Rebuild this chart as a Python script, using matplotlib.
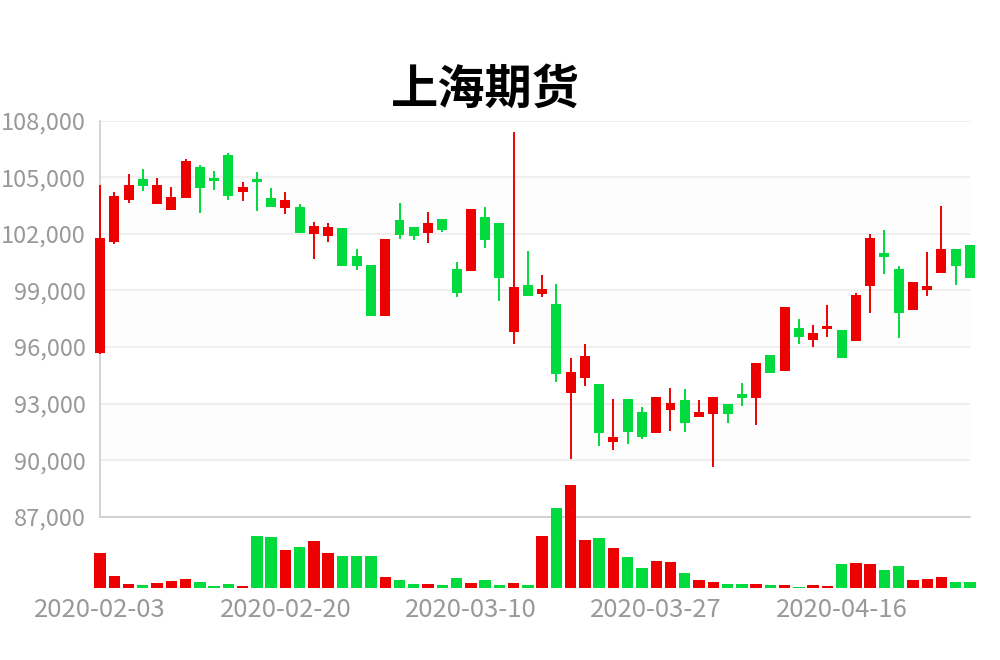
import numpy as np
import matplotlib
matplotlib.use("Agg")
from matplotlib import pyplot as plt
from matplotlib.ticker import FuncFormatter

plt.rcParams['font.family'] = ['Noto Sans CJK SC', 'DejaVu Sans']

title = "上海期货"

# trading days from 2020-02-03 (Qingming holiday skipped)
dates = np.busday_offset('2020-02-03', np.arange(62), roll='forward',
                         holidays=['2020-04-06'])

opens = [95680, 101560, 103790, 104900, 103590, 103290, 103880, 105540, 104960, 106200,
         104200, 104900, 103880, 103380, 103430, 101980, 101890, 102320, 100810, 100370,
         97660, 102760, 102370, 102040, 102780, 100160, 100040, 102870, 102600, 96780,
         99300, 98800, 98300, 93550, 94360, 94040, 90960, 93250, 92550, 91450,
         92680, 93180, 92290, 92460, 92960, 93500, 93280, 95560, 94750, 97010,
         96370, 96970, 96920, 96330, 99210, 100990, 100160, 97940, 99000, 99950,
         101220, 101400]
closes = [101770, 104030, 104570, 104530, 104600, 103980, 105840, 104430, 104800, 104000,
          104510, 104750, 103430, 103790, 102040, 102410, 102340, 100270, 100300, 97660,
          101750, 101950, 101890, 102600, 102210, 98870, 103330, 101660, 99650, 99190,
          98680, 99090, 94570, 94660, 95500, 91450, 91230, 91480, 91210, 93340,
          93050, 91950, 92550, 93340, 92460, 93290, 95170, 94610, 98140, 96550,
          96740, 97110, 95430, 98740, 101790, 100770, 97780, 99440, 99250, 101220,
          100270, 99650]
lows = [95650, 101450, 103650, 104270, 103590, 103290, 103880, 103130, 104340, 103770,
        103750, 103220, 103430, 103040, 102040, 100670, 101560, 100270, 100070, 97660,
        97660, 101730, 101680, 101500, 102090, 98650, 100040, 101270, 98440, 96180,
        98680, 98630, 94120, 90070, 93910, 90770, 90520, 90860, 91120, 91450,
        91570, 91500, 92290, 89660, 91960, 92870, 91850, 94610, 94750, 96160,
        96000, 96550, 95430, 96330, 97780, 99860, 96490, 97940, 98680, 99950,
        99280, 99650]
highs = [104600, 104210, 105150, 105450, 104970, 104510, 105980, 105650, 105330, 106300,
         104740, 105270, 104430, 104210, 103580, 102620, 102570, 102320, 101190, 100370,
         101750, 103650, 102370, 103170, 102780, 100510, 103330, 103400, 102600, 107400,
         101100, 99840, 99320, 95430, 96140, 94040, 93230, 93250, 92800, 93340,
         93820, 93790, 93180, 93340, 92960, 94110, 95170, 95560, 98140, 97480,
         97180, 98220, 96920, 98860, 102000, 102210, 100320, 99440, 101030, 103480,
         101220, 101400]
volumes = [34000, 11300, 3300, 2000, 4300, 6000, 8000, 5000, 1300, 3700,
           1300, 51000, 50300, 37700, 40700, 46000, 34300, 31300, 31300, 31300,
           10700, 7000, 3300, 3300, 2000, 9300, 4300, 7300, 2300, 4000,
           2000, 51300, 78700, 102300, 47000, 49700, 39700, 30000, 19700, 26000,
           25000, 14700, 7000, 5000, 3000, 3700, 3300, 2000, 2000, 700,
           2000, 1300, 23700, 24300, 23700, 17300, 21700, 7000, 8000, 10700,
           5700, 5000]

up_color = '#ec0000'
down_color = '#00da3c'
label_color = '#999999'

x = np.arange(len(dates))
o = np.array(opens)
c = np.array(closes)
colors = [up_color if cc > oo else down_color for oo, cc in zip(o, c)]

fig = plt.figure(figsize=(10, 6.6), dpi=100)
W, H = 1000, 660

# main candlestick panel: px 100..970 wide, 120.7..516.7 tall
ax = fig.add_axes([100 / W, 1 - 516.7 / H, 870 / W, 396 / H])
ax.patch.set_alpha(0)
# volume panel, baseline at 587.5 px
axv = fig.add_axes([100 / W, 1 - 587.5 / H, 870 / W, 103.5 / H])
axv.patch.set_alpha(0)
axv.set_zorder(ax.get_zorder() + 1)

# faint alternating split areas
for lo in [102000, 96000, 90000]:
    ax.axhspan(lo, lo + 3000, color='#fdfdfd', zorder=0, lw=0)

ax.vlines(x, lows, highs, colors=colors, lw=1.4, zorder=3, clip_on=False)
ax.bar(x, c - o, bottom=o, width=0.7, color=colors, lw=0, zorder=4, clip_on=False)

ax.set_xlim(0, len(dates) - 1)
ax.set_ylim(87000, 108000)
ax.set_yticks(np.arange(87000, 108001, 3000))
ax.yaxis.set_major_formatter(FuncFormatter(lambda v, p: f"{v:,.0f}"))
ax.tick_params(axis='y', length=0, pad=10, labelsize=17, labelcolor=label_color)
ax.set_xticks([])
ax.grid(axis='y', color='#ebebeb', lw=1.1, zorder=1)
ax.set_axisbelow(True)
for s in ['top', 'right']:
    ax.spines[s].set_visible(False)
for s in ['left', 'bottom']:
    ax.spines[s].set_color('#cccccc')
    ax.spines[s].set_linewidth(1.2)

axv.bar(x, volumes, width=0.8, color=colors, lw=0, clip_on=False)
axv.set_xlim(0, len(dates) - 1)
axv.set_ylim(0, 103000)
axv.set_yticks([])
tick_idx = x[::13]
axv.set_xticks(tick_idx)
axv.set_xticklabels([str(dates[i]) for i in tick_idx])
axv.tick_params(axis='x', length=0, pad=7, labelsize=18.5, labelcolor=label_color)
for s in axv.spines.values():
    s.set_visible(False)

fig.text(0.485, 1 - 90 / H, title, ha='center', va='center',
         fontsize=34, fontweight='bold', color='black')

fig.savefig('out.png', dpi=100)
